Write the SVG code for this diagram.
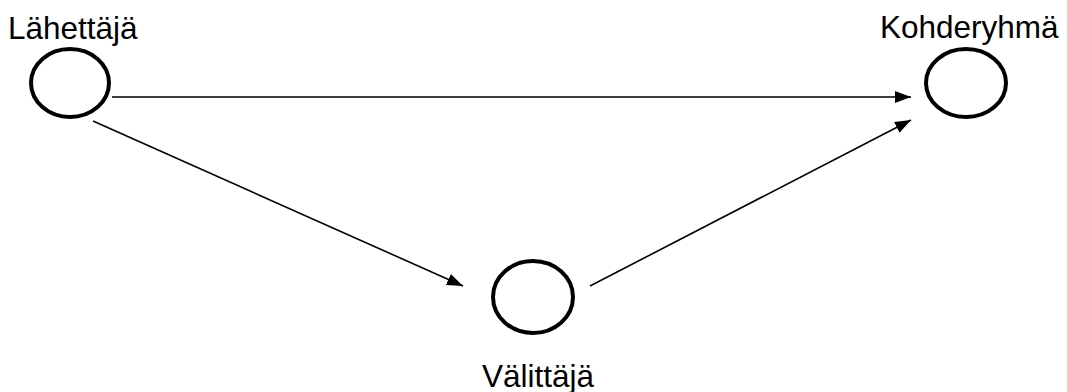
<svg xmlns="http://www.w3.org/2000/svg" width="1067" height="392" viewBox="0 0 1067 392">
<style>
.node ellipse{fill:none;stroke:#000;stroke-width:4}
.lbl{font-family:"Liberation Sans",Arial,sans-serif;font-size:31.5px;fill:#000}
.conn line{stroke:#000;stroke-width:1.6;fill:none}
</style>
<defs>
<marker id="arr" viewBox="0 0 10 10" refX="10" refY="5" markerWidth="16" markerHeight="12" markerUnits="userSpaceOnUse" orient="auto" preserveAspectRatio="none">
<path d="M0,0 L10,5 L0,10 z" fill="#000"/>
</marker>
</defs>
<rect width="1067" height="392" fill="#fff"/>
<g id="connectors" class="conn">
<line x1="112" y1="97" x2="911" y2="97" marker-end="url(#arr)"/>
<line x1="93" y1="121" x2="463" y2="286" marker-end="url(#arr)"/>
<line x1="590" y1="286" x2="911" y2="120" marker-end="url(#arr)"/>
</g>
<g id="lahettaja" class="node">
<ellipse cx="70" cy="83" rx="39" ry="34"/>
<text class="lbl" x="8" y="39">Lähettäjä</text>
</g>
<g id="kohderyhma" class="node">
<ellipse cx="966" cy="83" rx="40" ry="34"/>
<text class="lbl" x="880" y="38">Kohderyhmä</text>
</g>
<g id="valittaja" class="node">
<ellipse cx="533" cy="297" rx="40" ry="36"/>
<text class="lbl" x="482" y="387">Välittäjä</text>
</g>
</svg>
